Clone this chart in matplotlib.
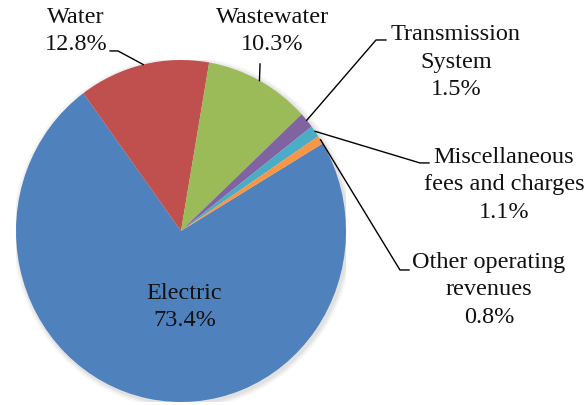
import matplotlib

matplotlib.use("Agg")

import numpy as np
import matplotlib.pyplot as plt

labels = ["Electric", "Water", "Wastewater", "Transmission\nSystem",
          "Miscellaneous\nfees and charges", "Other operating\nrevenues"]
shares = [73.4, 12.8, 10.3, 1.5, 1.1, 0.8]
colors = ["#4F81BD", "#C0504D", "#9BBB59", "#8064A2", "#4BACC6", "#F79646"]

# label block centres and leader paths (axes data units, pie radius = 1)
label_pos = [(0.021, -0.44), (-0.636, 1.175), (0.555, 1.175),
             (1.666, 0.994), (1.958, 0.275), (1.867, -0.339)]
leader_pts = [None,
              [(-0.382, 1.053), (-0.430, 1.053)],
              [(0.479, 0.977)],
              [(1.182, 1.117), (1.242, 1.117)],
              [(1.448, 0.398), (1.503, 0.398)],
              [(1.327, -0.228), (1.382, -0.228)]]

plt.rcParams["font.family"] = ["Liberation Serif", "DejaVu Serif"]

fig = plt.figure(figsize=(5.87, 4.06), dpi=100)
ax = fig.add_axes([16 / 587, 3 / 406, 330 / 587, 342 / 406])

# soft shadow behind pie
for k, a in zip([1.03, 1.02, 1.01], [0.06, 0.08, 0.10]):
    ax.add_patch(matplotlib.patches.Ellipse((0.01, -0.01), 2 * k, 2 * k,
                                            color="#808080", alpha=a, lw=0, zorder=0))

wedges, _ = ax.pie(shares, colors=colors, startangle=30.8, counterclock=False,
                   wedgeprops=dict(linewidth=0))
ax.set_aspect("auto")
ax.set_xlim(-1, 1)
ax.set_ylim(-1, 1)
ax.axis("off")

for i, (w, lab, val) in enumerate(zip(wedges, labels, shares)):
    tx, ty = label_pos[i]
    ax.text(tx, ty, f"{lab}\n{val:.1f}%", ha="center", va="center",
            fontsize=17.5, color="#111111", linespacing=1.38, clip_on=False)
    if leader_pts[i] is None:
        continue
    mid = np.deg2rad((w.theta1 + w.theta2) / 2)
    path = [(np.cos(mid), np.sin(mid))] + leader_pts[i]
    xs, ys = zip(*path)
    ax.plot(xs, ys, color="black", lw=1.0, clip_on=False)

fig.savefig("out.png", dpi=100)
